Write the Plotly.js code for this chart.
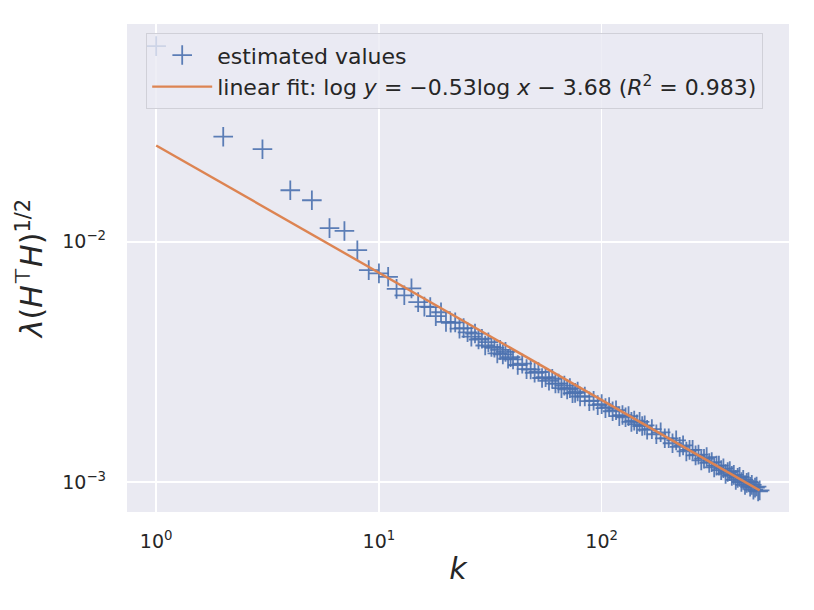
<!DOCTYPE html>
<html>
<head>
<meta charset="utf-8">
<script src="https://cdn.plot.ly/plotly-3.0.1.min.js"></script>
<style>
  body { margin: 0; background: #fff; }
  #myDiv { width: 814px; height: 610px; }
</style>
</head>
<body>
<div id="myDiv"></div>
<script>
// estimated singular values
var kValues = [
  1, 2, 3, 4, 5, 6, 7, 8, 9, 10,
  11, 12, 13, 14, 15, 16, 17, 18, 19, 20,
  21, 22, 23, 24, 25, 26, 27, 28, 29, 30,
  31, 32, 33, 34, 35, 36, 37, 38, 39, 40,
  42, 44, 46, 48, 50, 52, 54, 56, 58, 60,
  62, 64, 66, 68, 70, 72, 74, 76, 78, 80,
  84, 88, 92, 96, 100, 104, 108, 112, 116, 120,
  124, 128, 132, 136, 140, 144, 148, 152, 156, 160,
  168, 176, 184, 192, 200, 208, 216, 224, 232, 240,
  248, 256, 264, 272, 280, 288, 296, 304, 312, 320,
  328, 336, 344, 352, 360, 368, 376, 384, 392, 400,
  408, 416, 424, 432, 440, 448, 456, 464, 472, 480,
  488, 496, 504, 512
];
var estValues = [
  0.0653, 0.0274, 0.0243, 0.0164, 0.0149, 0.0114, 0.0111, 0.00923, 0.00762, 0.00739,
  0.00715, 0.00637, 0.00599, 0.00640, 0.00561, 0.00537, 0.00535, 0.00490, 0.00509, 0.00464,
  0.00460, 0.00462, 0.00435, 0.00437, 0.00420, 0.00403, 0.00415, 0.00392, 0.00395, 0.00370,
  0.00382, 0.00365, 0.00362, 0.00343, 0.00355, 0.00340, 0.00348, 0.00326, 0.00331, 0.00324,
  0.00307, 0.00311, 0.00295, 0.00294, 0.00285, 0.00287, 0.00271, 0.00273, 0.00264, 0.00269,
  0.00257, 0.00257, 0.00246, 0.00252, 0.00243, 0.00246, 0.00234, 0.00235, 0.00238, 0.00227,
  0.00227, 0.00217, 0.00218, 0.00209, 0.00211, 0.00203, 0.00205, 0.00197, 0.00199, 0.00188,
  0.00190, 0.00186, 0.00188, 0.00178, 0.00180, 0.00174, 0.00178, 0.00171, 0.00172, 0.00165,
  0.00166, 0.00158, 0.00161, 0.00152, 0.00152, 0.00145, 0.00149, 0.00140, 0.00142, 0.00134,
  0.00136, 0.00136, 0.00129, 0.00130, 0.00123, 0.00125, 0.00127, 0.00120, 0.00121, 0.00115,
  0.00117, 0.00117, 0.00112, 0.00114, 0.00108, 0.00110, 0.00111, 0.00106, 0.00107, 0.00102,
  0.00104, 0.00105, 0.00100, 0.00102, 0.000972, 0.000991, 0.00100, 0.000955, 0.000973, 0.000929,
  0.000947, 0.000957, 0.000913, 0.000923
];

// fitted line end points
var fitK = [1, 512];
var fitValues = [0.0252, 0.000923];

var tickFont = { family: "DejaVu Sans", size: 19, color: "#262626" };
var titleFont = { family: "DejaVu Sans", size: 30, color: "#262626" };

var data = [
  {
    type: "scatter",
    mode: "markers",
    x: kValues,
    y: estValues,
    name: "estimated values",
    marker: {
      symbol: "cross-thin",
      size: 14,
      color: "#4C72B0",
      opacity: 0.9,
      line: { color: "#4C72B0", width: 1.8 }
    }
  },
  {
    type: "scatter",
    mode: "lines",
    x: fitK,
    y: fitValues,
    name: "linear fit: log <i>y</i> = \u22120.53log <i>x</i> \u2212 3.68 (<i>R</i><sup>2</sup> = 0.983)",
    line: { color: "#DD8452", width: 2.4 }
  }
];

var layout = {
  width: 814, height: 610,
  margin: { t: 24, r: 25, l: 127, b: 98 },
  paper_bgcolor: "#ffffff",
  plot_bgcolor: "#EAEAF2",
  font: { family: "DejaVu Sans", color: "#262626" },
  showlegend: true,
  legend: {
    x: 0.029, y: 0.981, xanchor: "left", yanchor: "top",
    bgcolor: "rgba(234,234,242,0.8)",
    bordercolor: "#d0d0d8", borderwidth: 1,
    font: { family: "DejaVu Sans", size: 22, color: "#262626" },
    itemwidth: 60,
    tracegroupgap: 2
  },
  xaxis: {
    type: "log",
    range: [-0.131, 2.841],
    tickvals: [1, 10, 100],
    ticktext: ["10<sup>0</sup>", "10<sup>1</sup>", "10<sup>2</sup>"],
    tickfont: tickFont,
    ticks: "",
    ticklabelstandoff: 16,
    showgrid: true, gridcolor: "#ffffff", gridwidth: 1.6,
    zeroline: false, showline: false,
    title: { text: "<i>k</i>", font: titleFont, standoff: 6 }
  },
  yaxis: {
    type: "log",
    range: [-3.125, -1.093],
    tickvals: [0.001, 0.01],
    ticktext: ["10<sup>\u22123</sup>", "10<sup>\u22122</sup>"],
    tickfont: tickFont,
    ticks: "",
    ticklabelstandoff: 20,
    showgrid: true, gridcolor: "#ffffff", gridwidth: 1.6,
    zeroline: false, showline: false,
    title: { text: "<i>\u03bb</i>(<i>H</i><sup>\u22a4</sup><i>H</i>)<sup>1/2</sup>", font: titleFont, standoff: 10 }
  }
};

Plotly.newPlot("myDiv", data, layout, { displayModeBar: false, staticPlot: true });
</script>
</body>
</html>
